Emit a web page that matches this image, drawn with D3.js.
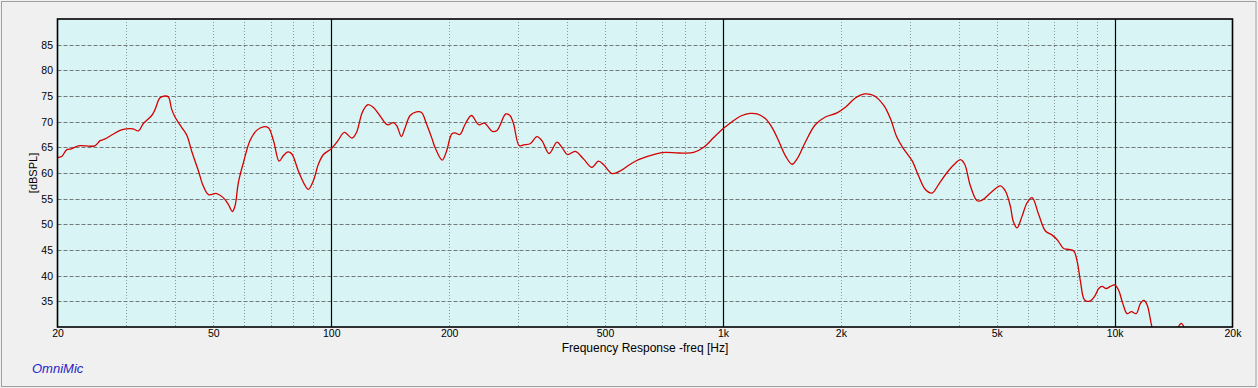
<!DOCTYPE html>
<html>
<head>
<meta charset="utf-8">
<script src="https://cdn.jsdelivr.net/npm/d3@7/dist/d3.min.js"></script>
<style>
  html, body { margin: 0; padding: 0; background: #f0f0f0; }
  svg { display: block; }
  text { font-family: "Liberation Sans", Arial, sans-serif; fill: #000; }
</style>
</head>
<body>
<svg id="chart" width="1258" height="388"></svg>
<script>
// ---- data ----
const freqs = [20, 20.5, 21.1, 21.7, 22.6, 24.9, 25.7, 26.4, 27.5, 28.9, 30.0, 31.2, 32.2, 33.1, 34.8, 35.5, 36.5, 37.6, 38.4, 39.1,
  39.9, 41.5, 42.8, 44.0, 45.8, 47.1, 48.6, 51.0, 53.0, 54.6, 55.9, 56.8, 57.9, 59.7, 62.0, 64.5, 67.1, 69.1, 71.2, 73.6,
  75.5, 77.5, 79.3, 82.4, 85.4, 87.4, 90.0, 92.7, 95.5, 99.9, 104, 108, 113, 116, 120, 124, 128, 133, 139, 144,
  147, 151, 154, 159, 165, 170, 175, 181, 184, 192, 197, 203, 207, 213, 220, 228, 238, 246, 258, 265,
  279, 286, 292, 302, 310, 322, 335, 345, 360, 377, 388, 401, 420, 441, 463, 481, 496, 521, 547, 580,
  609, 672, 713, 771, 842, 893, 947, 1004, 1055, 1119, 1174, 1222, 1283, 1334, 1387, 1443, 1501, 1545, 1623, 1721,
  1826, 1956, 2054, 2178, 2301, 2426, 2572, 2676, 2783, 2893, 3040, 3160, 3288, 3420, 3555, 3735, 3922, 4039, 4142, 4283,
  4456, 4589, 4818, 5110, 5262, 5419, 5516, 5637, 5805, 5978, 6157, 6400, 6660, 6928, 7135, 7416, 7637, 7865, 8024, 8181,
  8391, 8677, 8899, 9111, 9295, 9516, 9759, 10009, 10247, 10491, 10766, 11042, 11351, 11641, 11869, 12109, 12420, 12716, 14302, 14557,
  14790, 15037, 15348];
const splValues = [63.0, 63.2, 64.5, 64.7, 65.3, 65.3, 66.3, 66.6, 67.4, 68.3, 68.6, 68.6, 68.2, 69.6, 71.2, 72.4, 74.6, 75.0, 74.8, 72.5,
  70.9, 68.9, 67.3, 64.3, 60.4, 57.5, 55.8, 56.0, 55.2, 53.9, 52.5, 53.6, 58.1, 62.1, 66.3, 68.3, 69.0, 68.8, 66.3, 62.3,
  63.4, 64.1, 63.7, 60.4, 57.8, 56.8, 58.5, 61.7, 63.6, 64.7, 66.3, 67.9, 66.8, 67.9, 71.8, 73.3, 72.8, 71.2, 69.4, 69.8,
  69.2, 67.1, 68.6, 71.2, 71.9, 71.8, 69.6, 66.6, 65.0, 62.5, 64.3, 67.6, 67.8, 67.5, 69.6, 71.2, 69.4, 69.7, 68.1, 68.3,
  71.5, 71.2, 69.6, 65.3, 65.5, 65.7, 67.1, 66.3, 63.8, 66.0, 65.0, 63.6, 64.2, 62.7, 61.1, 62.3, 61.6, 59.9, 60.4, 61.7,
  62.6, 63.7, 64.0, 63.9, 64.0, 65.0, 66.9, 68.7, 70.0, 71.2, 71.6, 71.5, 70.6, 68.9, 66.3, 63.4, 61.7, 62.7, 66.0, 69.4,
  70.9, 71.7, 72.8, 74.6, 75.4, 75.1, 73.2, 70.6, 66.9, 64.7, 62.4, 59.4, 56.8, 56.1, 57.8, 60.1, 61.9, 62.6, 61.7, 57.5,
  54.6, 54.7, 56.1, 57.5, 56.5, 53.5, 50.5, 49.3, 51.6, 54.2, 55.2, 51.9, 48.7, 47.9, 47.0, 45.3, 45.1, 44.8, 42.8, 38.9,
  35.2, 35.1, 36.0, 37.5, 37.9, 37.5, 37.9, 38.2, 37.1, 34.6, 32.6, 33.0, 32.6, 34.6, 35.2, 34.3, 30.4, 27.5, 27.5, 30.0,
  30.7, 30.0, 27.5];

const yTicks = [35, 40, 45, 50, 55, 60, 65, 70, 75, 80, 85];
const xTickValues = [20, 50, 100, 200, 500, 1000, 2000, 5000, 10000, 20000];
const xTickLabels = ["20", "50", "100", "200", "500", "1k", "2k", "5k", "10k", "20k"];
const decadeLines = [100, 1000, 10000];
const minorLines = [30, 40, 50, 60, 70, 80, 90, 200, 300, 400, 500, 600, 700, 800, 900,
  2000, 3000, 4000, 5000, 6000, 7000, 8000, 9000];

// ---- layout ----
const W = 1258, H = 388;
const L = 57.5, R = 1232.5, T = 19, B = 327;

const svg = d3.select("#chart");
const x = d3.scaleLog().domain([20, 20000]).range([L, R]);
const y = d3.scaleLinear().domain([30, 90]).range([B, T]);

// outer frame
svg.append("rect").attr("x", 0).attr("y", 0).attr("width", W).attr("height", H).attr("fill", "#f0f0f0");
svg.append("rect").attr("x", 1.5).attr("y", 1.5).attr("width", 1254.5).attr("height", 385)
  .attr("fill", "none").attr("stroke", "#a0a0a0").attr("stroke-width", 1);

// plot background
svg.append("rect").attr("x", L).attr("y", T).attr("width", R - L).attr("height", B - T).attr("fill", "#d9f4f4");

// clip
svg.append("clipPath").attr("id", "clip").append("rect")
  .attr("x", L).attr("y", T).attr("width", R - L).attr("height", B - T);

// minor vertical dotted lines
svg.append("g").selectAll("line").data(minorLines).join("line")
  .attr("x1", d => Math.round(x(d)) + 0.5).attr("x2", d => Math.round(x(d)) + 0.5)
  .attr("y1", T).attr("y2", B)
  .attr("stroke", "#8a9898").attr("stroke-width", 1).attr("stroke-dasharray", "1,2");

// horizontal dashed grid
svg.append("g").selectAll("line").data(yTicks).join("line")
  .attr("x1", L).attr("x2", R)
  .attr("y1", d => Math.round(y(d)) + 0.5).attr("y2", d => Math.round(y(d)) + 0.5)
  .attr("stroke", "#707878").attr("stroke-width", 1).attr("stroke-dasharray", "4,2");

// decade solid lines
svg.append("g").selectAll("line").data(decadeLines).join("line")
  .attr("x1", d => Math.round(x(d)) + 0.5).attr("x2", d => Math.round(x(d)) + 0.5)
  .attr("y1", T).attr("y2", B)
  .attr("stroke", "#000").attr("stroke-width", 1.2);

// curve
const line = d3.line()
  .x((d, i) => x(freqs[i]))
  .y((d, i) => y(splValues[i]))
  .curve(d3.curveCatmullRom.alpha(0.5));
svg.append("path")
  .attr("clip-path", "url(#clip)")
  .attr("d", line(splValues))
  .attr("fill", "none")
  .attr("stroke", "#d40000")
  .attr("stroke-width", 1.3)
  .attr("stroke-linejoin", "round");

// plot border
svg.append("rect").attr("x", L).attr("y", T).attr("width", R - L).attr("height", B - T)
  .attr("fill", "none").attr("stroke", "#000").attr("stroke-width", 1.6);

// y axis via d3 axis (labels only)
const yAxis = d3.axisLeft(y).tickValues(yTicks).tickSize(0).tickPadding(4);
const gy = svg.append("g").attr("transform", `translate(${L - 0.5},0)`).call(yAxis);
gy.select(".domain").remove();
gy.selectAll("text").attr("font-size", "10.5px").attr("font-family", "'Liberation Sans', Arial, sans-serif").attr("fill", "#000");

// x axis via d3 axis
const xAxis = d3.axisBottom(x).tickValues(xTickValues).tickSize(0).tickPadding(3)
  .tickFormat((d, i) => xTickLabels[i]);
const gx = svg.append("g").attr("transform", `translate(0,${B})`).call(xAxis);
gx.select(".domain").remove();
gx.selectAll("text").attr("font-size", "10.5px").attr("font-family", "'Liberation Sans', Arial, sans-serif").attr("fill", "#000");

// axis titles
svg.append("text").attr("x", (L + R) / 2).attr("y", 352).attr("text-anchor", "middle")
  .attr("font-size", "12px").text("Frequency Response -freq [Hz]");
svg.append("text").attr("transform", `translate(37,${(T + B) / 2}) rotate(-90)`)
  .attr("text-anchor", "middle").attr("font-size", "11px").text("[dBSPL]");

// brand
svg.append("text").attr("x", 32).attr("y", 373).attr("font-size", "13px")
  .attr("font-style", "italic").style("fill", "#2424c8").text("OmniMic");
</script>
</body>
</html>
